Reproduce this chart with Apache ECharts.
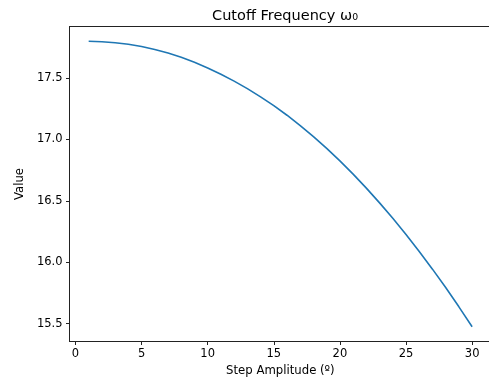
<!DOCTYPE html>
<html>
<head>
<meta charset="utf-8">
<script src="https://cdn.jsdelivr.net/npm/echarts@6/dist/echarts.min.js"></script>
<style>
html,body{margin:0;padding:0;background:#fff;}
#chart{width:489px;height:383px;}
</style>
</head>
<body>
<div id="chart"></div>
<script>
const stepAmplitude = [1,2,3,4,5,6,7,8,9,10,11,12,13,14,15,16,17,18,19,20,21,22,23,24,25,26,27,28,29,30];
const cutoffValues = [17.800,17.796,17.788,17.775,17.757,17.733,17.704,17.669,17.628,17.582,
  17.531,17.475,17.414,17.347,17.275,17.197,17.113,17.023,16.927,16.825,
  16.717,16.603,16.483,16.357,16.225,16.087,15.943,15.793,15.636,15.474];
const xTicks = [0,5,10,15,20,25,30];
const yTicks = [15.5,16.0,16.5,17.0,17.5];
const titleText = 'Cutoff Frequency ω₀';
const xName = 'Step Amplitude (º)';
const yName = 'Value';

const font = 'DejaVu Sans';
const chart = echarts.init(document.getElementById('chart'), null, {renderer:'canvas'});
chart.setOption({
  animation:false,
  backgroundColor:'#fff',
  title:{text:titleText,left:280,top:4,textAlign:'center',
    textStyle:{fontFamily:font,fontSize:14.5,fontWeight:'normal',color:'#000'}},
  grid:{left:69.5,top:26.5,width:421.8,height:315,show:false,
    containLabel:false,outerBoundsMode:'none'},
  xAxis:[{type:'value',min:-0.45,max:31.45,position:'bottom',
    name:xName,nameLocation:'middle',nameGap:23,
    nameTextStyle:{fontFamily:font,fontSize:11.7,color:'#000'},
    axisLine:{show:true,onZero:false,lineStyle:{color:'#222',width:1}},
    axisTick:{show:true,length:3.5,customValues:xTicks,lineStyle:{color:'#222'}},
    axisLabel:{customValues:xTicks,margin:6.5,fontFamily:font,fontSize:11.5,color:'#000'},
    splitLine:{show:false}},
   {type:'value',min:-0.45,max:31.45,position:'top',
    axisLine:{show:true,onZero:false,lineStyle:{color:'#222',width:1}},
    axisTick:{show:false},axisLabel:{show:false},splitLine:{show:false}}],
  yAxis:{type:'value',min:15.3535,max:17.92,
    name:yName,nameLocation:'middle',nameGap:38,
    nameTextStyle:{fontFamily:font,fontSize:11.7,color:'#000'},
    axisLine:{show:true,onZero:false,lineStyle:{color:'#222',width:1}},
    axisTick:{show:true,length:3.5,customValues:yTicks,lineStyle:{color:'#222'}},
    axisLabel:{customValues:yTicks,margin:7,fontFamily:font,fontSize:11.5,color:'#000',
      formatter:v=>v.toFixed(1)},
    splitLine:{show:false}},
  series:[{type:'line',xAxisIndex:0,data:stepAmplitude.map((x,i)=>[x,cutoffValues[i]]),
    showSymbol:false,symbol:'none',smooth:false,
    lineStyle:{color:'#1f77b4',width:1.6}}]
});
</script>
</body>
</html>
